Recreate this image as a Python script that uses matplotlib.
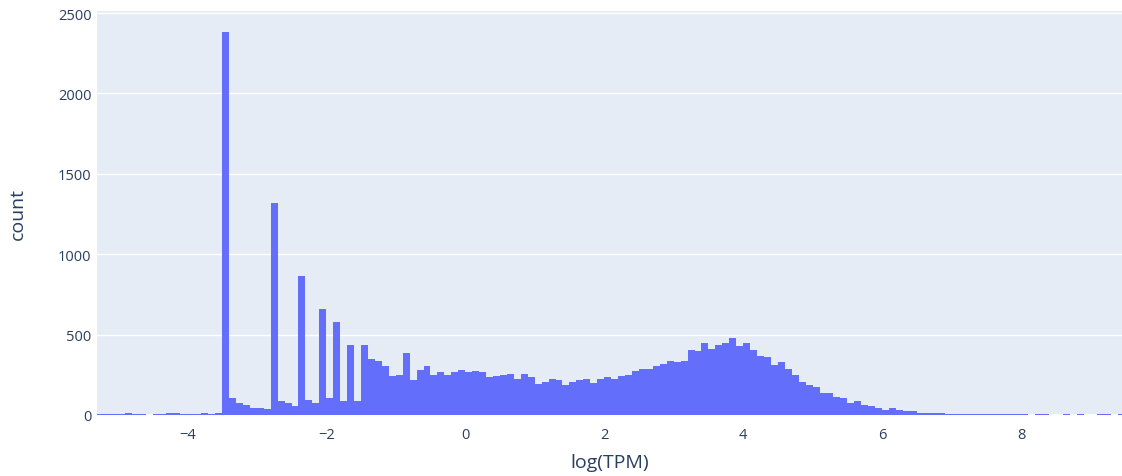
import numpy as np
import matplotlib
matplotlib.use("Agg")
import matplotlib.pyplot as plt

# ---- data: histogram of log(TPM), bin width 0.1 starting at -5.3 ----
bin_start = -5.3
bin_width = 0.1
counts = [
    6, 6, 6, 6, 12, 8, 6, 0, 6, 6,          # -5.3 .. -4.4
    10, 10, 6, 6, 6, 10, 7, 14,             # -4.3 .. -3.6
    2382, 104, 75, 62, 45, 44, 40,          # -3.5 .. -2.9
    1320, 88, 75, 57,                       # -2.8 .. -2.5
    865, 93, 75,                            # -2.4 .. -2.2
    661, 104, 580, 88, 435, 88,             # -2.1 .. -1.6
    435, 347, 335, 304, 241, 250, 383, 218, 282, 304,   # -1.5 .. -0.6
    251, 266, 251, 266, 282, 267, 273, 267, 234, 240,   # -0.5 .. 0.4
    250, 254, 222, 254, 238, 191, 207, 222, 218, 184,   # 0.5 .. 1.4
    207, 218, 222, 202, 222, 234, 222, 240, 250, 272,   # 1.5 .. 2.4
    288, 289, 302, 315, 336, 332, 336, 402, 396, 446,   # 2.5 .. 3.4
    413, 433, 450, 481, 429, 446, 402, 369, 363, 313,   # 3.5 .. 4.4
    330, 286, 249, 207, 189, 172, 137, 137, 110, 104,   # 4.5 .. 5.4
    73, 89, 60, 54, 41, 31, 41, 31, 25, 22,             # 5.5 .. 6.4
    12, 12, 12, 12, 8, 8, 8, 7, 7, 7,                   # 6.5 .. 7.4
    7, 7, 7, 7, 7, 7, 0, 7, 7, 0,                       # 7.5 .. 8.4
    0, 7, 0, 7, 0, 0, 7, 7, 0, 7,                       # 8.5 .. 9.4
]
x_ticks = [-4, -2, 0, 2, 4, 6, 8]
y_ticks = [0, 500, 1000, 1500, 2000, 2500]
x_label = "log(TPM)"
y_label = "count"

bin_lefts = bin_start + bin_width * np.arange(len(counts))

# ---- style ----
plt.rcParams['font.family'] = ['Open Sans', 'DejaVu Sans']
text_color = "#2a3f5f"
bg = "#E5ECF6"
bar_color = "#636EFA"

W, H = 1122, 477
fig = plt.figure(figsize=(W / 100, H / 100), dpi=100)
left_px, right_px, top_px, bottom_px = 97, 1122, 12.4, 416
ax = fig.add_axes([left_px / W, 1 - bottom_px / H,
                   (right_px - left_px) / W, (bottom_px - top_px) / H])
ax.set_facecolor(bg)

ax.bar(bin_lefts, counts, width=bin_width, align='edge', color=bar_color,
       linewidth=0, zorder=3)

ax.set_xlim(-5.3, 9.453)
ax.set_ylim(0, 2510)
ax.set_xticks(x_ticks)
ax.set_yticks(y_ticks)
ax.set_yticklabels([str(v) for v in y_ticks])
ax.set_xticklabels([str(v).replace('-', '\u2212') for v in x_ticks])

ax.grid(axis='y', color='white', linewidth=1.0, zorder=0)
ax.grid(axis='x', visible=False)
ax.axhline(0, color='white', linewidth=2, zorder=1, clip_on=False)
ax.set_axisbelow(True)

for s in ax.spines.values():
    s.set_visible(False)
ax.tick_params(axis='both', length=0, labelsize=10.5, colors=text_color)
ax.tick_params(axis='y', pad=4)
ax.tick_params(axis='x', pad=9)

fig.text((left_px + right_px) / 2 / W, 1 - 463 / H, x_label, ha='center',
         va='center', fontsize=14, color=text_color)
fig.text(18 / W, 1 - 214 / H, y_label, ha='center', va='center',
         rotation=90, fontsize=14, color=text_color)

fig.savefig("out.png", dpi=100, facecolor='white')
